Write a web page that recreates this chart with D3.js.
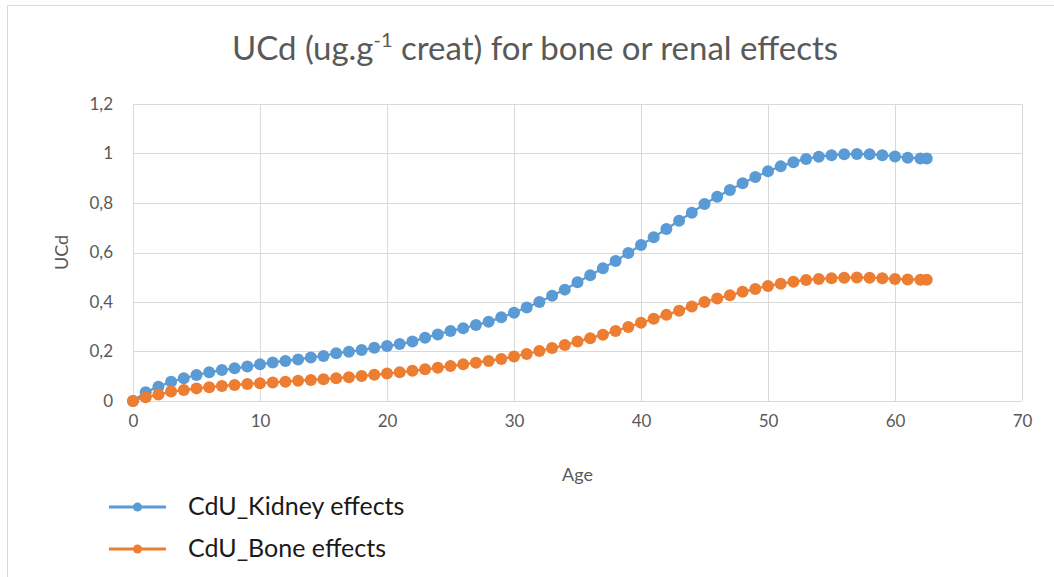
<!DOCTYPE html>
<html>
<head>
<meta charset="utf-8">
<script src="https://cdn.jsdelivr.net/npm/d3@7"></script>
<style>
  body { margin: 0; background: #fff; }
  text { font-family: Lato, "Open Sans", sans-serif; }
</style>
</head>
<body>
<div id="chart-area"></div>
<script>
// ages (years) and urinary Cd thresholds
var ages = [0, 1, 2, 3, 4, 5, 6, 7, 8, 9, 10, 11, 12, 13, 14, 15, 16, 17, 18, 19, 20,
	21, 22, 23, 24, 25, 26, 27, 28, 29, 30, 31, 32, 33, 34, 35, 36, 37, 38, 39, 40,
	41, 42, 43, 44, 45, 46, 47, 48, 49, 50, 51, 52, 53, 54, 55, 56, 57, 58, 59, 60,
	61, 62, 62.5];

var kidney = [0, 0.035, 0.058, 0.078, 0.092, 0.105, 0.116, 0.125, 0.132, 0.139, 0.148,
	0.156, 0.162, 0.168, 0.176, 0.182, 0.193, 0.199, 0.206, 0.215, 0.222,
	0.230, 0.240, 0.256, 0.269, 0.283, 0.294, 0.307, 0.320, 0.338, 0.357,
	0.378, 0.400, 0.425, 0.450, 0.480, 0.508, 0.536, 0.566, 0.598, 0.630,
	0.662, 0.695, 0.728, 0.761, 0.796, 0.825, 0.853, 0.880, 0.905, 0.928,
	0.948, 0.965, 0.978, 0.987, 0.993, 0.997, 0.998, 0.997, 0.993, 0.988,
	0.983, 0.980, 0.980];

var bone = [0, 0.015, 0.026, 0.038, 0.044, 0.051, 0.056, 0.061, 0.065, 0.069, 0.072,
	0.075, 0.078, 0.082, 0.085, 0.088, 0.092, 0.096, 0.101, 0.106, 0.111,
	0.116, 0.122, 0.128, 0.134, 0.141, 0.148, 0.155, 0.162, 0.170, 0.180,
	0.190, 0.202, 0.214, 0.226, 0.240, 0.254, 0.268, 0.283, 0.299, 0.316,
	0.332, 0.348, 0.365, 0.382, 0.400, 0.414, 0.427, 0.441, 0.453, 0.465,
	0.474, 0.482, 0.489, 0.493, 0.496, 0.498, 0.499, 0.498, 0.496, 0.493,
	0.491, 0.490, 0.490];

var xTicks = [0, 10, 20, 30, 40, 50, 60, 70];
var yTicks = [0, 0.2, 0.4, 0.6, 0.8, 1, 1.2];

var seriesNames = ["CdU_Kidney effects", "CdU_Bone effects"];
var seriesColors = ["#5b9bd5", "#ed7d31"];

var W = 1054, H = 577;
var margin = {top: 104, left: 133, bottom: 176, right: 32};
var width = W - margin.left - margin.right;
var height = H - margin.top - margin.bottom;

var svg = d3.select("#chart-area")
	.append("svg")
		.attr("width", W)
		.attr("height", H);

// chart frame
svg.append("rect")
	.attr("x", 7.5).attr("y", 5.5)
	.attr("width", 1100).attr("height", 700)
	.attr("fill", "#fff")
	.attr("stroke", "#d9d9d9");

// title
var title = svg.append("text")
	.attr("x", 535)
	.attr("y", 60)
	.attr("text-anchor", "middle")
	.attr("font-size", "33px")
	.attr("fill", "#595959");
title.append("tspan").text("UCd (ug.g");
title.append("tspan").attr("font-size", "20px").attr("dy", -13).text("-1");
title.append("tspan").attr("dy", 13).text(" creat) for bone or renal effects");

var g = svg.append("g")
	.attr("transform", "translate(" + margin.left + ", " + margin.top + ")");

var x = d3.scaleLinear().domain([0, 70]).range([0, width]);
var y = d3.scaleLinear().domain([0, 1.2]).range([height, 0]);

// grid
g.selectAll(".hgrid").data(yTicks).enter()
	.append("line")
		.attr("x1", 0).attr("x2", width)
		.attr("y1", function(d){ return Math.round(y(d)) + 0.5; })
		.attr("y2", function(d){ return Math.round(y(d)) + 0.5; })
		.attr("stroke", "#d9d9d9");
g.selectAll(".vgrid").data(xTicks).enter()
	.append("line")
		.attr("y1", 0).attr("y2", height)
		.attr("x1", function(d){ return Math.round(x(d)) + 0.5; })
		.attr("x2", function(d){ return Math.round(x(d)) + 0.5; })
		.attr("stroke", "#d9d9d9");

// axes (labels only, the grid does the lines)
var fmt = function(d){ return String(d).replace(".", ","); };

var xAxis = g.append("g")
	.attr("transform", "translate(0, " + height + ")")
	.call(d3.axisBottom(x).tickValues(xTicks).tickSize(0).tickPadding(14).tickFormat(fmt));
var yAxis = g.append("g")
	.call(d3.axisLeft(y).tickValues(yTicks).tickSize(0).tickPadding(20).tickFormat(fmt));
[xAxis, yAxis].forEach(function(a){
	a.select(".domain").remove();
	a.selectAll("text")
		.attr("font-family", "Lato, sans-serif")
		.attr("font-size", "17px")
		.attr("fill", "#595959");
});

// axis titles
g.append("text")
	.attr("x", width / 2)
	.attr("y", height + 80)
	.attr("text-anchor", "middle")
	.attr("font-size", "18px")
	.attr("fill", "#595959")
	.text("Age");

g.append("text")
	.attr("x", -(height / 2))
	.attr("y", -65)
	.attr("text-anchor", "middle")
	.attr("transform", "rotate(-90)")
	.attr("font-size", "18px")
	.attr("fill", "#595959")
	.text("UCd");

// series
var series = [kidney, bone];
var line = d3.line()
	.x(function(d, i){ return x(ages[i]); })
	.y(function(d){ return y(d); });

series.forEach(function(vals, s){
	g.append("path")
		.datum(vals)
		.attr("d", line)
		.attr("fill", "none")
		.attr("stroke", seriesColors[s])
		.attr("stroke-width", 2.25);
	g.selectAll(".pt" + s).data(vals).enter()
		.append("circle")
			.attr("cx", function(d, i){ return x(ages[i]); })
			.attr("cy", function(d){ return y(d); })
			.attr("r", 6)
			.attr("fill", seriesColors[s]);
});

// legend
var legend = svg.append("g");
seriesNames.forEach(function(name, s){
	var ly = 507 + s * 42;
	legend.append("line")
		.attr("x1", 109).attr("x2", 166)
		.attr("y1", ly).attr("y2", ly)
		.attr("stroke", seriesColors[s])
		.attr("stroke-width", 3);
	legend.append("circle")
		.attr("cx", 137.5).attr("cy", ly)
		.attr("r", 4.5)
		.attr("fill", seriesColors[s]);
	legend.append("text")
		.attr("x", 188)
		.attr("y", ly + 8)
		.attr("font-size", "25px")
		.attr("fill", "#1a1a1a")
		.text(name);
});
</script>
</body>
</html>
